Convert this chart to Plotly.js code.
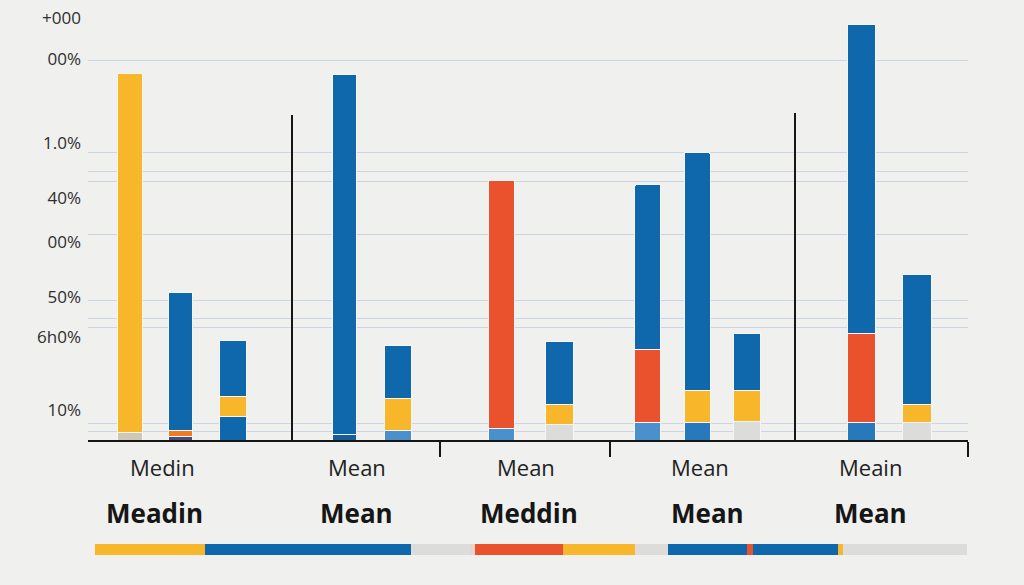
<!DOCTYPE html>
<html><head><meta charset="utf-8">
<script src="https://cdn.plot.ly/plotly-3.0.1.min.js"></script>
<style>html,body{margin:0;padding:0;background:#f0f0ef;}#chart{width:1024px;height:585px;}</style>
</head><body><div id="chart"></div>
<script>
// ---- data ----
const barSlots = [4.22, 9.27, 14.5, 25.65, 31.0, 41.33, 47.17, 55.98, 60.9, 65.9, 77.33, 82.92];
const bottomValues = [2, 1, 6, 1.5, 2.5, 3, 4, 4.5, 4.5, 4.75, 4.5, 4.5];
const middleValues = [89.75, 1.5, 5, 90, 8, 62, 5, 18.25, 8, 7.75, 22.25, 4.5];
const topValues    = [0, 34.5, 14, 0, 13.25, 0, 15.75, 41.25, 59.5, 14.25, 77.25, 32.5];

const groupLabels = ["Medin", "Mean", "Mean", "Mean", "Meain"];
const groupBoldLabels = ["Meadin", "Mean", "Meddin", "Mean", "Mean"];

const yTickText = ["+000", "00%", "1.0%", "40%", "00%", "50%", "6h0%", "10%"];
const yTickVals = [105.5, 95.25, 74.25, 60.5, 49.5, 35.75, 25.75, 7.5];
const gridVals = [95, 72, 67.25, 64.75, 51.5, 35, 30.5, 28.25, 4.25, 2.25];

const stripSegments = [11.0, 20.6, 5.9, 0.5, 8.8, 7.2, 3.3, 7.9, 0.6, 8.5, 0.5, 12.4];

// ---- styles ----
const C = {
  yellow:'#F8B62A', blue:'#0E68AB', red:'#E9522D', orange:'#F27A1F', navy:'#4A4C78',
  tan:'#CFC8B4', dark:'#155F9E', light:'#4A90CC', mid:'#2878BC', gray:'#DCDCDA', pale:'#E6D4CD'
};
const bottomColors = [C.tan, C.navy, C.blue, C.dark, C.light, C.light, C.gray, C.light, C.mid, C.gray, C.mid, C.gray];
const middleColors = [C.yellow, C.orange, C.yellow, C.blue, C.yellow, C.red, C.yellow, C.red, C.yellow, C.yellow, C.red, C.yellow];
const topColors = topValues.map(() => C.blue);
const stripColors = [C.yellow, C.blue, C.gray, C.pale, C.red, C.yellow, C.gray, C.blue, C.red, C.blue, C.yellow, C.gray];

const barWidths = [2.5, 2.4, 2.67, 2.43, 2.73, 2.6, 2.8, 2.57, 2.6, 2.73, 2.8, 2.9];
const labelSlots = [7.4, 26.9, 43.8, 61.2, 78.2];
const boldLabelSlots = [6.6, 26.8, 44.1, 61.9, 78.2];
const tickMarks = [35.2, 52.2, 88];
const dividers = [{x:20.4, top:81.25}, {x:70.7, top:81.75}];
const stripStart = 0.7;

function layer(values, colors) {
  return {
    type:'bar', x:barSlots, y:values, width:barWidths,
    marker:{color:colors, line:{color:'#f6f6f6', width:1}, cornerradius:2},
    hoverinfo:'skip'
  };
}

const stripBase = [];
stripSegments.reduce((acc, v) => { stripBase.push(acc); return acc + v; }, stripStart);

const traces = [
  layer(bottomValues, bottomColors),
  layer(middleValues, middleColors),
  layer(topValues, topColors),
  {
    type:'bar', orientation:'h', xaxis:'x', yaxis:'y2',
    y:stripSegments.map(() => 0), x:stripSegments, base:stripBase, width:1,
    marker:{color:stripColors, line:{width:0}}, hoverinfo:'skip'
  }
];

const annotations = [];
groupLabels.forEach((t, i) => annotations.push({
  text:t, x:labelSlots[i], xref:'x', y:(585-467)/585, yref:'paper',
  showarrow:false, xanchor:'center', yanchor:'middle',
  font:{family:'Open Sans, sans-serif', size:22, color:'#222'}
}));
groupBoldLabels.forEach((t, i) => annotations.push({
  text:'<b>'+t+'</b>', x:boldLabelSlots[i], xref:'x', y:(585-513)/585, yref:'paper',
  showarrow:false, xanchor:'center', yanchor:'middle',
  font:{family:'Open Sans, sans-serif', size:26, color:'#161616'}
}));

const shapes = dividers.map(d => ({
  type:'line', xref:'x', yref:'y', x0:d.x, x1:d.x, y0:0, y1:d.top,
  line:{color:'#161616', width:2}
}));

const layout = {
  width:1024, height:585,
  margin:{l:88, r:56, t:0, b:0},
  paper_bgcolor:'#f0f0ef', plot_bgcolor:'#f0f0ef',
  barmode:'stack', showlegend:false,
  xaxis:{
    range:[0,88], showline:true, linecolor:'#161616', linewidth:2,
    showgrid:false, zeroline:false,
    tickmode:'array', tickvals:tickMarks, ticktext:tickMarks.map(() => ''),
    ticks:'outside', ticklen:15, tickwidth:2, tickcolor:'#161616', fixedrange:true
  },
  yaxis:{
    domain:[(585-440)/585, 1], range:[0,110],
    showgrid:false, zeroline:false, showline:false,
    tickmode:'array', tickvals:yTickVals, ticktext:yTickText, ticks:'',
    ticklabelstandoff:6,
    tickfont:{family:'Open Sans, sans-serif', size:17, color:'#2e2e2e'},
    minor:{tickmode:'array', tickvals:gridVals, showgrid:true, gridcolor:'#ccd5e2', gridwidth:1, ticks:''},
    fixedrange:true
  },
  yaxis2:{domain:[(585-555)/585, (585-544)/585], range:[-0.5,0.5], visible:false, fixedrange:true},
  annotations:annotations,
  shapes:shapes
};

Plotly.newPlot('chart', traces, layout, {displayModeBar:false, staticPlot:true});
</script>
</body></html>
